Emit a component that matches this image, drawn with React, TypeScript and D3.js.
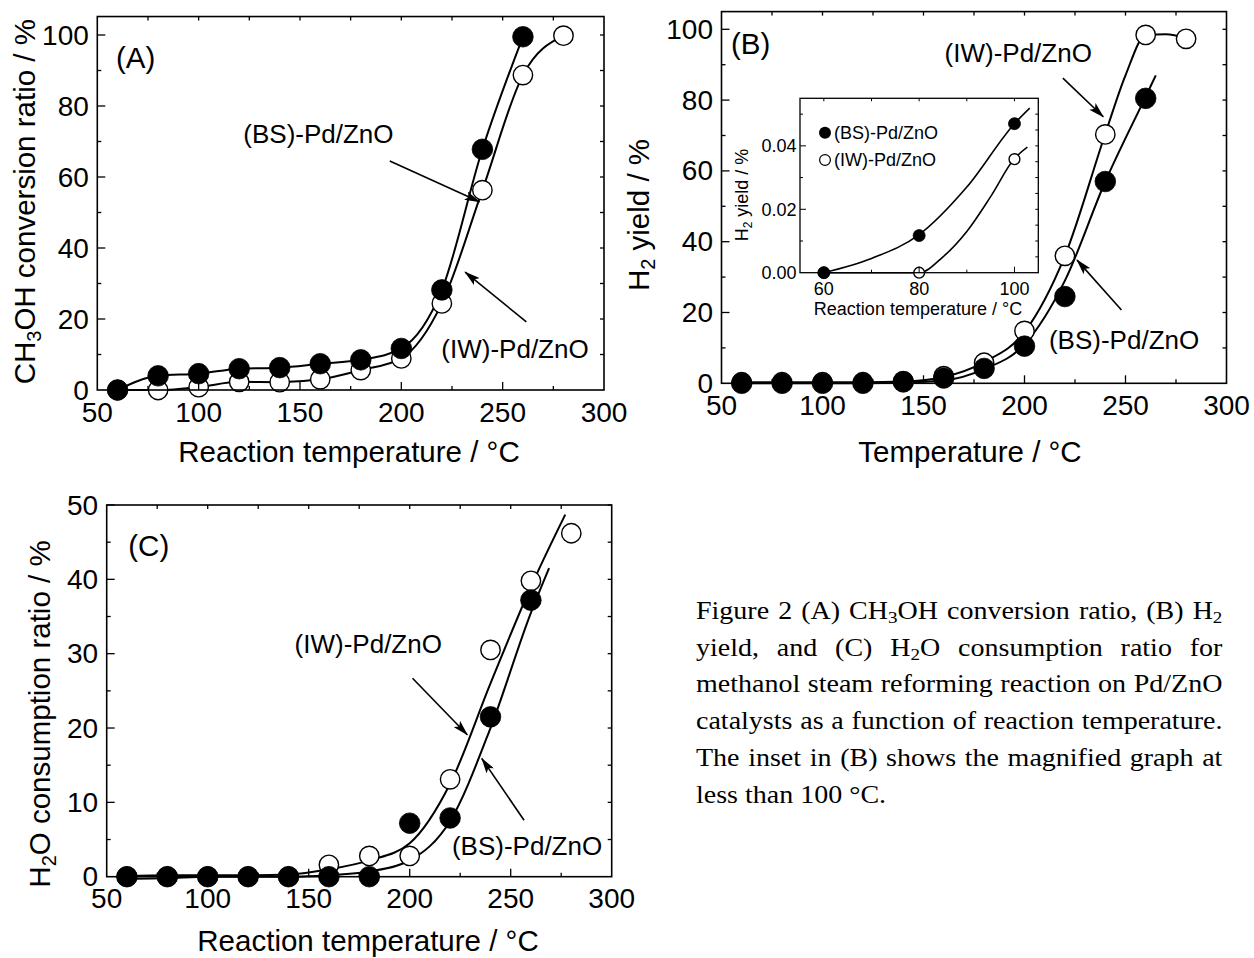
import React from "react";
import * as d3 from "d3";

// ---------------- data ----------------
const tempBS = [60, 80, 100, 120, 140, 160, 180, 200, 220, 240, 260];
const tempIW = [60, 80, 100, 120, 140, 160, 180, 200, 220, 240, 260, 280];

// (A) CH3OH conversion ratio / %
const convBS = [0, 4.0, 4.6, 6.0, 6.3, 7.4, 8.5, 11.7, 28.2, 67.8, 99.5];
const convIW = [0, 0, 0.8, 2.3, 2.2, 3.0, 5.6, 8.9, 24.4, 56.3, 88.7, 99.8];

// (B) H2 yield / %
const yieldBS = [0, 0, 0, 0, 0.4, 1.5, 4.2, 10.5, 24.5, 57.0, 80.5];
const yieldIW = [0.3, 0.3, 0.3, 0.3, 0.6, 2.0, 5.8, 14.8, 36.0, 70.3, 98.4, 97.3];
const yieldBSFitT = [60, 80, 100, 120, 140, 160, 180, 200, 220, 240, 260, 265];
const yieldBSFit = [0, 0, 0, 0, 0.2, 0.8, 4.0, 11.0, 29.0, 57.0, 81.0, 87.0];
const yieldIWFitT = [60, 80, 100, 120, 140, 160, 180, 200, 220, 240, 250, 260, 270, 280];
const yieldIWFit = [0.3, 0.3, 0.3, 0.3, 0.5, 1.8, 6.0, 14.5, 36.0, 70.5, 87.0, 98.3, 98.6, 97.5];

// (C) H2O consumption ratio / %
const consBS = [0, 0, 0, 0, 0, 0, 0, 7.2, 7.9, 21.5, 37.2];
const consIW = [0, 0, 0, 0, 0, 1.6, 2.8, 2.8, 13.1, 30.5, 39.8, 46.2];
const consBSFitT = [60, 80, 100, 120, 140, 160, 180, 200, 220, 240, 260, 269];
const consBSFit = [-0.3, -0.2, 0, 0, 0, 0.2, 0.7, 2.2, 7.5, 20.0, 35.5, 41.5];
const consIWFitT = [60, 80, 100, 120, 140, 160, 180, 200, 220, 240, 260, 277];
const consIWFit = [0.1, 0.2, 0.2, 0.2, 0.3, 1.0, 2.2, 4.5, 12.5, 26.0, 39.0, 48.7];

// inset of (B): H2 yield below 100 °C
const insetT = [60, 80, 100];
const insetBS = [0, 0.0117, 0.047];
const insetIW = [0, 0, 0.0358];
const insetBSFitT = [60, 70, 80, 90, 100, 103.2];
const insetBSFit = [0, 0.0045, 0.012, 0.027, 0.047, 0.0519];
const insetIWFitT = [60, 80, 85, 90, 95, 100, 102.7];
const insetIWFit = [0, 0, 0.005, 0.013, 0.024, 0.036, 0.0396];

// tick labels
const xTickLabels = [50, 100, 150, 200, 250, 300];
const yTickLabelsAB = [0, 20, 40, 60, 80, 100];
const yTickLabelsC = [0, 10, 20, 30, 40, 50];
const insetXTickLabels = [60, 80, 100];
const insetYTickLabels = [0, 0.02, 0.04];

// annotations (data units): label centre + arrow from (ax,ay) to (bx,by)
const annotA = [
  { text: "(BS)-Pd/ZnO", lx: 159.1, ly: 69.5, ax: 194.3, ay: 64.5, bx: 238.6, by: 53 },
  { text: "(IW)-Pd/ZnO", lx: 256.1, ly: 8.9, ax: 261.7, ay: 19.2, bx: 231.5, by: 33.2 },
];
const annotB = [
  { text: "(IW)-Pd/ZnO", lx: 196.9, ly: 90.8, ax: 219, ay: 86.2, bx: 239, by: 75.3 },
  { text: "(BS)-Pd/ZnO", lx: 249.3, ly: 9.6, ax: 248, ay: 20.7, bx: 226, by: 34.8 },
];
const annotC = [
  { text: "(IW)-Pd/ZnO", lx: 179.5, ly: 30.1, ax: 201.4, ay: 26.7, bx: 228.5, by: 19.1 },
  { text: "(BS)-Pd/ZnO", lx: 258.1, ly: 2.9, ax: 256.6, ay: 7.6, bx: 235.7, by: 15.9 },
];

const captionLines: (string | { sub: string })[][] = [
  ["Figure 2 (A) CH", { sub: "3" }, "OH conversion ratio, (B) H", { sub: "2" }],
  ["yield, and (C) H", { sub: "2" }, "O consumption ratio for"],
  ["methanol steam reforming reaction on Pd/ZnO"],
  ["catalysts as a function of reaction temperature."],
  ["The inset in (B) shows the magnified graph at"],
  ["less than 100 °C."],
];

// ---------------- drawing ----------------
const FONT = "'Liberation Sans', Arial, Helvetica, sans-serif";
const SERIF = "'Liberation Serif', 'Times New Roman', Times, serif";
const TITLE = 29.5;

type Lin = d3.ScaleLinear<number, number>;

function lineOf(x: Lin, y: Lin, xs: number[], ys: number[]) {
  const g = d3
    .line<number>()
    .x((_, i) => x(xs[i]))
    .y((v) => y(v))
    .curve(d3.curveMonotoneX);
  return g(ys) || "";
}

function Markers({ x, y, xs, ys, filled, r }: { x: Lin; y: Lin; xs: number[]; ys: number[]; filled: boolean; r: number }) {
  return (
    <g>
      {ys.map((v, i) => (
        <circle
          key={i}
          cx={x(xs[i])}
          cy={y(v)}
          r={filled ? r : r - 0.6}
          fill={filled ? "#000" : "#fff"}
          stroke="#000"
          strokeWidth={filled ? 0.8 : 1.4}
        />
      ))}
    </g>
  );
}

function MainAxes({
  x,
  y,
  yTop,
  yMaxTick,
  yMinor,
  yMajor,
  yRight,
  yLabels,
}: {
  x: Lin;
  y: Lin;
  yTop: number;
  yMaxTick: number;
  yMinor: number;
  yMajor: number;
  yRight: number;
  yLabels: number[];
}) {
  const [xl, xr] = x.range();
  const yb = y(0);
  const yt = y(yTop);
  const els: React.ReactNode[] = [];
  for (let i = 1; i < 10; i++) {
    const v = 50 + i * 25;
    const big = v % 50 === 0;
    els.push(<line key={"b" + i} x1={x(v)} x2={x(v)} y1={yb} y2={yb - (big ? 8 : 4)} />);
    els.push(<line key={"t" + i} x1={x(v)} x2={x(v)} y1={yt} y2={yt + 4} />);
  }
  const nMinor = Math.round(yMaxTick / yMinor);
  const ratio = Math.round(yMajor / yMinor);
  for (let i = 1; i <= nMinor; i++) {
    const v = i * yMinor;
    const big = i % ratio === 0;
    els.push(<line key={"l" + i} x1={xl} x2={xl + (big ? 8 : 4)} y1={y(v)} y2={y(v)} />);
  }
  const nRight = Math.round(yMaxTick / yRight);
  for (let i = 1; i <= nRight; i++) {
    const v = i * yRight;
    els.push(<line key={"r" + i} x1={xr} x2={xr - 4} y1={y(v)} y2={y(v)} />);
  }
  return (
    <g>
      <g stroke="#000" strokeWidth={1.3}>{els}</g>
      <rect x={xl} y={yt} width={xr - xl} height={yb - yt} fill="none" stroke="#000" strokeWidth={1.6} />
      <g fontFamily={FONT} fontSize={28} fill="#000">
        {xTickLabels.map((v) => (
          <text key={"xl" + v} x={x(v)} y={yb + 31.5} textAnchor="middle">
            {v}
          </text>
        ))}
        {yLabels.map((v) => (
          <text key={"yl" + v} x={xl - 8.5} y={y(v) + 9.5} textAnchor="end">
            {v}
          </text>
        ))}
      </g>
    </g>
  );
}

function Annotations({ x, y, items }: { x: Lin; y: Lin; items: typeof annotA }) {
  return (
    <g>
      {items.map((a, i) => (
        <g key={i}>
          <line
            x1={x(a.ax)}
            y1={y(a.ay)}
            x2={x(a.bx)}
            y2={y(a.by)}
            stroke="#000"
            strokeWidth={1.6}
            markerEnd="url(#arrowHead)"
          />
          <text x={x(a.lx)} y={y(a.ly)} textAnchor="middle" fontFamily={FONT} fontSize={26}>
            {a.text}
          </text>
        </g>
      ))}
    </g>
  );
}

export default function App() {
  const xA = d3.scaleLinear().domain([50, 300]).range([97.3, 604]);
  const yA = d3.scaleLinear().domain([0, 100]).range([390, 35]);
  const xB = d3.scaleLinear().domain([50, 300]).range([721.5, 1226.5]);
  const yB = d3.scaleLinear().domain([0, 100]).range([383.3, 29.3]);
  const xC = d3.scaleLinear().domain([50, 300]).range([106.7, 611.7]);
  const yC = d3.scaleLinear().domain([0, 50]).range([876.7, 505]);
  const xI = d3.scaleLinear().domain([55, 105]).range([800, 1038.3]);
  const yI = d3.scaleLinear().domain([0, 0.055]).range([272.7, 98.3]);

  const [ixl, ixr] = xI.range();
  const iyb = yI(0);
  const iyt = yI(0.055);
  const insetTicks: React.ReactNode[] = [];
  for (let i = 0; i <= 4; i++) {
    const v = 60 + i * 10;
    const big = i % 2 === 0;
    insetTicks.push(<line key={"ib" + i} x1={xI(v)} x2={xI(v)} y1={iyb} y2={iyb - (big ? 6 : 3)} />);
    insetTicks.push(<line key={"it" + i} x1={xI(v)} x2={xI(v)} y1={iyt} y2={iyt + 3} />);
  }
  for (let i = 1; i <= 5; i++) {
    const v = i * 0.01;
    const big = i % 2 === 0;
    insetTicks.push(<line key={"il" + i} x1={ixl} x2={ixl + (big ? 6 : 3)} y1={yI(v)} y2={yI(v)} />);
  }
  for (let i = 1; i <= 10; i++) {
    const v = i * 0.005;
    insetTicks.push(<line key={"ir" + i} x1={ixr} x2={ixr - 3} y1={yI(v)} y2={yI(v)} />);
  }

  const lastLine = captionLines.length - 1;

  return (
    <svg
      width={1254}
      height={958}
      viewBox="0 0 1254 958"
      style={{ position: "absolute", left: 0, top: 0, background: "#fff" }}
    >
      <defs>
        <marker
          id="arrowHead"
          viewBox="0 0 16 9"
          refX={15}
          refY={4.5}
          markerWidth={16}
          markerHeight={9}
          markerUnits="userSpaceOnUse"
          orient="auto"
        >
          <path d="M0,0 L16,4.5 L0,9 L3.5,4.5 Z" fill="#000" />
        </marker>
      </defs>
      <rect x={0} y={0} width={1254} height={958} fill="#fff" />

      {/* ---------- Panel A ---------- */}
      <g>
        <g fill="none" stroke="#000" strokeWidth={2}>
          <path d={lineOf(xA, yA, tempBS, convBS)} />
          <path d={lineOf(xA, yA, tempIW, convIW)} />
        </g>
        <Markers x={xA} y={yA} xs={tempIW} ys={convIW} filled={false} r={10.3} />
        <Markers x={xA} y={yA} xs={tempBS} ys={convBS} filled={true} r={10.3} />
        <MainAxes x={xA} y={yA} yTop={105.2} yMaxTick={100} yMinor={10} yMajor={20} yRight={10} yLabels={yTickLabelsAB} />
        <Annotations x={xA} y={yA} items={annotA} />
        <text x={116} y={68} fontFamily={FONT} fontSize={29.5}>(A)</text>
        <text x={349} y={461.7} textAnchor="middle" fontFamily={FONT} fontSize={TITLE}>
          Reaction temperature / °C
        </text>
        <text transform="translate(35,201.7) rotate(-90)" textAnchor="middle" fontFamily={FONT} fontSize={TITLE}>
          CH<tspan dy={6} fontSize={20}>3</tspan>
          <tspan dy={-6}>OH conversion ratio / %</tspan>
        </text>
      </g>

      {/* ---------- Panel B ---------- */}
      <g>
        <g fill="none" stroke="#000" strokeWidth={2}>
          <path d={lineOf(xB, yB, yieldBSFitT, yieldBSFit)} />
          <path d={lineOf(xB, yB, yieldIWFitT, yieldIWFit)} />
        </g>
        <Markers x={xB} y={yB} xs={tempIW} ys={yieldIW} filled={false} r={10.3} />
        <Markers x={xB} y={yB} xs={tempBS} ys={yieldBS} filled={true} r={10.3} />
        <MainAxes x={xB} y={yB} yTop={105} yMaxTick={100} yMinor={10} yMajor={20} yRight={10} yLabels={yTickLabelsAB} />
        <Annotations x={xB} y={yB} items={annotB} />
        <text x={731} y={54} fontFamily={FONT} fontSize={29.5}>(B)</text>
        <text x={970} y={461.7} textAnchor="middle" fontFamily={FONT} fontSize={TITLE}>
          Temperature / °C
        </text>
        <text transform="translate(649,215) rotate(-90)" textAnchor="middle" fontFamily={FONT} fontSize={TITLE}>
          H<tspan dy={6} fontSize={20}>2</tspan>
          <tspan dy={-6}> yield / %</tspan>
        </text>

        {/* inset */}
        <rect x={ixl} y={iyt} width={ixr - ixl} height={iyb - iyt} fill="#fff" />
        <g fill="none" stroke="#000" strokeWidth={1.6}>
          <path d={lineOf(xI, yI, insetBSFitT, insetBSFit)} />
          <path d={lineOf(xI, yI, insetIWFitT, insetIWFit)} />
        </g>
        <Markers x={xI} y={yI} xs={insetT} ys={insetIW} filled={false} r={6} />
        <Markers x={xI} y={yI} xs={insetT} ys={insetBS} filled={true} r={6} />
        <g stroke="#000" strokeWidth={1}>{insetTicks}</g>
        <rect x={ixl} y={iyt} width={ixr - ixl} height={iyb - iyt} fill="none" stroke="#000" strokeWidth={1.3} />
        <g fontFamily={FONT} fontSize={18}>
          {insetXTickLabels.map((v) => (
            <text key={"ix" + v} x={xI(v)} y={295} textAnchor="middle">
              {v}
            </text>
          ))}
          {insetYTickLabels.map((v) => (
            <text key={"iy" + v} x={ixl - 3.5} y={yI(v) + 6.5} textAnchor="end">
              {v.toFixed(2)}
            </text>
          ))}
          <text x={918} y={315} textAnchor="middle">Reaction temperature / °C</text>
          <text transform="translate(748,195) rotate(-90)" textAnchor="middle">
            H<tspan dy={4} fontSize={12}>2</tspan>
            <tspan dy={-4}> yield / %</tspan>
          </text>
          <circle cx={825} cy={132.7} r={6} fill="#000" />
          <text x={834} y={138.5}>(BS)-Pd/ZnO</text>
          <circle cx={825} cy={160} r={5.4} fill="#fff" stroke="#000" strokeWidth={1.2} />
          <text x={834} y={166}>(IW)-Pd/ZnO</text>
        </g>
      </g>

      {/* ---------- Panel C ---------- */}
      <g>
        <g fill="none" stroke="#000" strokeWidth={2}>
          <path d={lineOf(xC, yC, consBSFitT, consBSFit)} />
          <path d={lineOf(xC, yC, consIWFitT, consIWFit)} />
        </g>
        <Markers x={xC} y={yC} xs={tempIW} ys={consIW} filled={false} r={10.3} />
        <Markers x={xC} y={yC} xs={tempBS} ys={consBS} filled={true} r={10.3} />
        <MainAxes x={xC} y={yC} yTop={50} yMaxTick={50} yMinor={5} yMajor={10} yRight={5} yLabels={yTickLabelsC} />
        <Annotations x={xC} y={yC} items={annotC} />
        <text x={128.3} y={555.6} fontFamily={FONT} fontSize={29.5}>(C)</text>
        <text x={368} y={951} textAnchor="middle" fontFamily={FONT} fontSize={TITLE}>
          Reaction temperature / °C
        </text>
        <text transform="translate(50,714) rotate(-90)" textAnchor="middle" fontFamily={FONT} fontSize={TITLE}>
          H<tspan dy={6} fontSize={20}>2</tspan>
          <tspan dy={-6}>O consumption ratio / %</tspan>
        </text>
      </g>

      {/* ---------- Caption ---------- */}
      <foreignObject x={696} y={593} width={550} height={240}>
        <div
          style={{
            transform: "scaleX(1.12)",
            transformOrigin: "0 0",
            width: 470,
            fontFamily: SERIF,
            fontSize: 25,
            lineHeight: "36.7px",
            color: "#000",
          }}
        >
          {captionLines.map((ln, i) => (
            <div
              key={i}
              style={{
                whiteSpace: "nowrap",
                textAlign: i < lastLine ? "justify" : "left",
                textAlignLast: i < lastLine ? "justify" : "left",
              }}
            >
              {ln.map((seg, j) =>
                typeof seg === "string" ? (
                  <span key={j}>{seg}</span>
                ) : (
                  <span key={j} style={{ fontSize: "0.68em", verticalAlign: "-0.22em", lineHeight: 0 }}>
                    {seg.sub}
                  </span>
                )
              )}
            </div>
          ))}
        </div>
      </foreignObject>
    </svg>
  );
}
